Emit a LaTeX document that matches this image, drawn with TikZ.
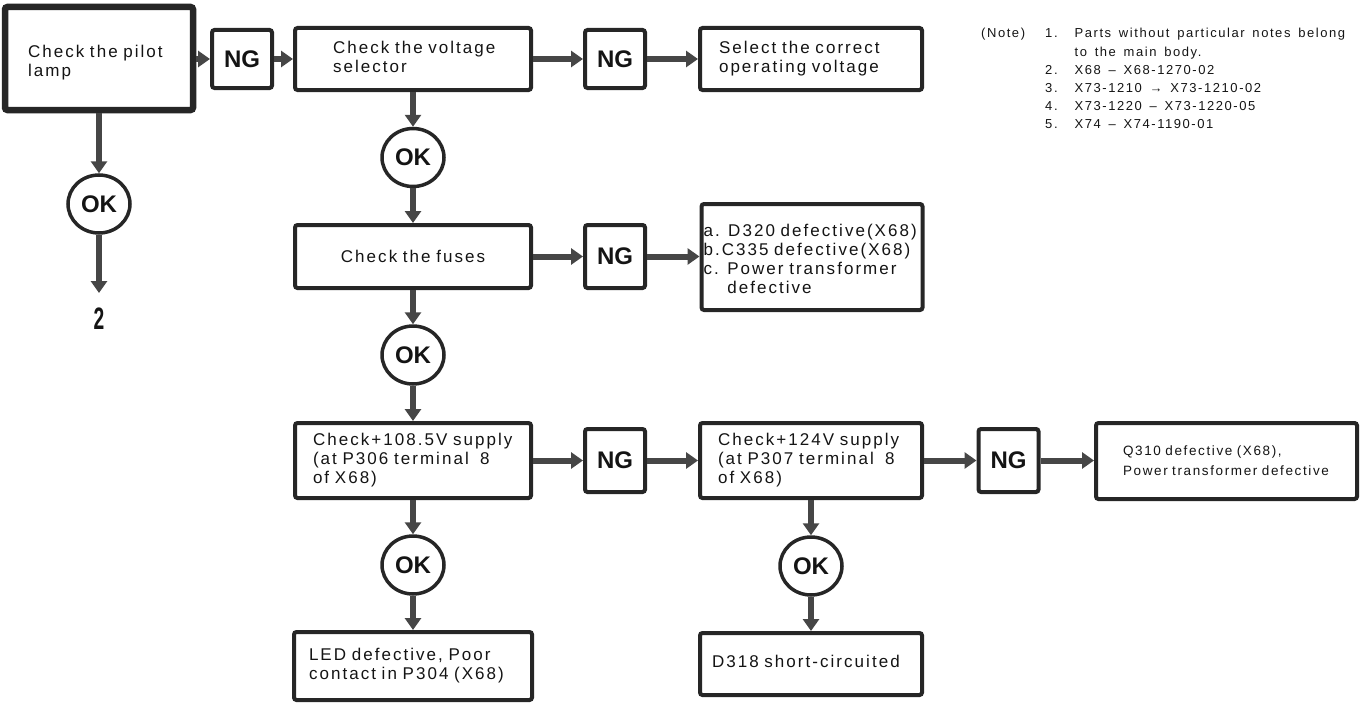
\documentclass[tikz,border=0pt]{standalone}
\usepackage{fontspec}
\usepackage{graphicx}
\setmainfont{Liberation Sans}[LetterSpace=12,WordSpace=1.5]
\newfontfamily\plainfont{Liberation Sans}
\usetikzlibrary{arrows.meta,shapes.geometric}
\definecolor{boxc}{RGB}{38,38,38}
\definecolor{arrc}{RGB}{70,70,70}
\definecolor{txtc}{RGB}{20,20,20}
\newcommand\boxlines[1]{\begin{tabular}{@{}l@{}}#1\end{tabular}}
\newcommand\lowered[2]{\raisebox{-#1}[\height][\depth]{#2}}
\begin{document}
\begin{tikzpicture}[x=1pt,y=-1pt,
  box/.style={draw=boxc, line width=4pt, rounded corners=2.5pt, fill=white,
    align=left, text=txtc, font=\fontsize{17pt}{19pt}\selectfont, inner ysep=0pt},
  ngbox/.style={draw=boxc, line width=4pt, rounded corners=2.5pt, fill=white,
    minimum width=60pt, minimum height=58pt, inner sep=0pt, text=txtc,
    font=\plainfont\bfseries\fontsize{24pt}{24pt}\selectfont},
  okc/.style={ellipse, draw=boxc, line width=3.5pt, fill=white,
    minimum width=62pt, minimum height=58pt, inner sep=0pt, text=txtc,
    font=\plainfont\bfseries\fontsize{24pt}{24pt}\selectfont},
  arr/.style={draw=arrc, line width=6pt, -{Triangle[length=12pt,width=16pt]}},
  notetxt/.style={inner sep=0pt, text=txtc, font=\fontsize{13pt}{18.2pt}\selectfont}
]
\useasboundingbox (0,0) rectangle (1365,709);

% top row
\node[box, line width=6.5pt, minimum width=188pt, minimum height=103pt,
      inner xsep=23pt, text width=142pt] (pilot) at (99,58.5)
      {\lowered{5pt}{\boxlines{Check the pilot\\lamp}}};
\node[ngbox] (ng1) at (242,59) {NG};
\node[box, minimum width=236pt, minimum height=62pt,
      inner xsep=38pt, text width=160pt] (volt) at (413,59)
      {\boxlines{Check the voltage\\selector}};
\node[ngbox] (ng2) at (615,59) {NG};
\node[box, minimum width=222pt, minimum height=62pt,
      inner xsep=19pt, text width=184pt] (sel) at (811,59)
      {\boxlines{Select the correct\\operating voltage}};

% left column
\node[okc] (ok1) at (99,204) {OK};
\coordinate (end2) at (99,293);
\node[inner sep=0pt, text=txtc, font=\plainfont\bfseries\fontsize{31pt}{31pt}\selectfont]
      (two) at (99,319) {\scalebox{0.62}[1]{2}};

% second row
\node[okc] (ok2) at (413,157.5) {OK};
\node[box, minimum width=236pt, minimum height=63pt, align=center,
      inner xsep=18pt, text width=200pt] (fuse) at (413,256.5) {Check the fuses};
\node[ngbox, minimum height=63pt] (ng3) at (615,256.5) {NG};
\node[box, minimum width=221pt, minimum height=106pt,
      inner xsep=2pt, text width=217pt] (defect) at (812,257)
      {\lowered{4pt}{\boxlines{a. D320 defective(X68)\\b.C335 defective(X68)\\c. Power transformer\\\phantom{c. }defective}}};

% third row
\node[okc] (ok3) at (413,355) {OK};
\node[box, minimum width=236pt, minimum height=75pt,
      inner xsep=18pt, text width=200pt] (b108) at (413,460.5)
      {\boxlines{Check+108.5V supply\\(at P306 terminal\ \ 8\\of X68)}};
\node[ngbox, minimum height=63pt] (ng4) at (615,460.5) {NG};
\node[box, minimum width=222pt, minimum height=75pt,
      inner xsep=18pt, text width=186pt] (b124) at (811,460.5)
      {\boxlines{Check+124V supply\\(at P307 terminal\ \ 8\\of X68)}};
\node[ngbox, minimum height=63pt] (ng5) at (1008.5,460.5) {NG};
\node[box, minimum width=261pt, minimum height=76pt,
      inner xsep=27pt, text width=207pt,
      font=\fontsize{13.5pt}{20pt}\selectfont] (q310) at (1226.5,461)
      {\boxlines{Q310 defective (X68),\\Power transformer defective}};

% bottom row
\node[okc] (ok5) at (413,565) {OK};
\node[okc] (ok4) at (811,566) {OK};
\node[box, minimum width=238pt, minimum height=68pt,
      inner xsep=15pt, text width=208pt] (led) at (413,666)
      {\boxlines{LED defective, Poor\\contact in P304 (X68)}};
\node[box, minimum width=222pt, minimum height=62pt,
      inner xsep=12pt, text width=198pt] (d318) at (811,664)
      {\boxlines{D318 short-circuited}};

% note
\node[notetxt, anchor=base west] (notehead) at (981,38) {(Note)};
\node[notetxt, anchor=base west] (notelist) at (1045,38)
  {\begin{tabular}[t]{@{}l@{\hspace{17pt}}l@{}}
   1. & Parts without particular notes belong\\
      & to the main body.\\
   2. & X68 – X68-1270-02\\
   3. & X73-1210 → X73-1210-02\\
   4. & X73-1220 – X73-1220-05\\
   5. & X74 – X74-1190-01
   \end{tabular}};

% connectors
\draw[arr] (pilot.east |- ng1) -- (ng1.west);
\draw[arr] (ng1.east) -- (volt.west |- ng1);
\draw[arr] (volt.east |- ng2) -- (ng2.west);
\draw[arr] (ng2.east) -- (sel.west |- ng2);
\draw[arr] (pilot.south) -- (ok1.north);
\draw[arr] (ok1.south) -- (end2);
\draw[arr] (volt.south) -- (ok2.north);
\draw[arr] (ok2.south) -- (fuse.north);
\draw[arr] (fuse.east) -- (ng3.west);
\draw[arr] (ng3.east) -- (defect.west |- ng3);
\draw[arr] (fuse.south) -- (ok3.north);
\draw[arr] (ok3.south) -- (b108.north);
\draw[arr] (b108.east) -- (ng4.west);
\draw[arr] (ng4.east) -- (b124.west);
\draw[arr] (b124.east) -- (ng5.west);
\draw[arr] (ng5.east) -- (q310.west |- ng5);
\draw[arr] (b108.south) -- (ok5.north);
\draw[arr] (ok5.south) -- (led.north);
\draw[arr] (b124.south) -- (ok4.north);
\draw[arr] (ok4.south) -- (d318.north);
\end{tikzpicture}
\end{document}
